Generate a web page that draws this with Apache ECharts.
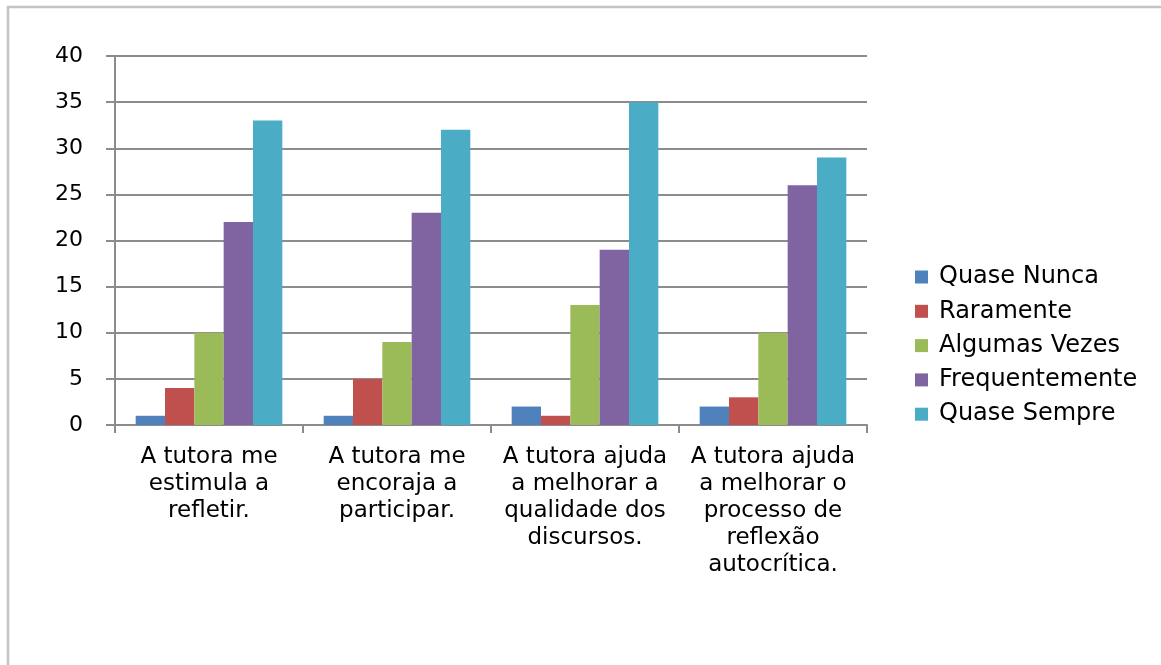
<!DOCTYPE html>
<html><head><meta charset="utf-8">
<script src="https://cdn.jsdelivr.net/npm/echarts@6/dist/echarts.min.js"></script>
<style>html,body{margin:0;padding:0;background:#fff}#c{width:1161px;height:665px}</style>
</head><body><div id="c"></div>
<script>
const categories = [
  "A tutora me\nestimula a\nrefletir.",
  "A tutora me\nencoraja a\nparticipar.",
  "A tutora ajuda\na melhorar a\nqualidade dos\ndiscursos.",
  "A tutora ajuda\na melhorar o\nprocesso de\nreflexão\nautocrítica."
];
const seriesNames = ["Quase Nunca", "Raramente", "Algumas Vezes", "Frequentemente", "Quase Sempre"];
const quaseNunca = [1, 1, 2, 2];
const raramente = [4, 5, 1, 3];
const algumasVezes = [10, 9, 13, 10];
const frequentemente = [22, 23, 19, 26];
const quaseSempre = [33, 32, 35, 29];
const colors = ["#4F81BD", "#C0504D", "#9BBB59", "#8064A2", "#4BACC6"];
const values = [quaseNunca, raramente, algumasVezes, frequentemente, quaseSempre];

const font = "DejaVu Sans";
const chart = echarts.init(document.getElementById('c'));
chart.setOption({
  animation: false,
  backgroundColor: '#fff',
  graphic: [
    { type: 'line', silent: true, shape: { x1: 7, y1: 7, x2: 1161, y2: 7 }, style: { stroke: '#c4c4c4', lineWidth: 2.5 } },
    { type: 'line', silent: true, shape: { x1: 8, y1: 6, x2: 8, y2: 665 }, style: { stroke: '#c4c4c4', lineWidth: 2.5 } }
  ],
  grid: { left: 115, right: 294, top: 56, bottom: 240, containLabel: false },
  legend: {
    orient: 'vertical', left: 915, top: 265, padding: 0,
    itemWidth: 13, itemHeight: 13, itemGap: 10.3,
    icon: 'rect',
    textStyle: { fontFamily: font, fontSize: 24, color: '#000', lineHeight: 24, padding: [0, 0, 0, 6] },
    data: seriesNames
  },
  xAxis: {
    type: 'category', data: categories,
    axisLine: { lineStyle: { color: '#8c8c8c', width: 2 } },
    axisTick: { show: true, length: 8, alignWithLabel: false, lineStyle: { color: '#8c8c8c', width: 2 } },
    axisLabel: { fontFamily: font, fontSize: 23, color: '#000', lineHeight: 26.8, margin: 19, interval: 0 }
  },
  yAxis: {
    type: 'value', min: 0, max: 40, interval: 5,
    axisLine: { show: true, lineStyle: { color: '#8c8c8c', width: 2 } },
    axisTick: { show: true, inside: false, length: 9, lineStyle: { color: '#8c8c8c', width: 2 } },
    splitLine: { lineStyle: { color: '#8c8c8c', width: 2 } },
    axisLabel: { fontFamily: font, fontSize: 22, color: '#000', margin: 32 }
  },
  series: seriesNames.map((n, i) => ({
    name: n, type: 'bar', data: values[i],
    barGap: '0%', barCategoryGap: '22%',
    itemStyle: { color: colors[i] }
  }))
});
</script></body></html>
